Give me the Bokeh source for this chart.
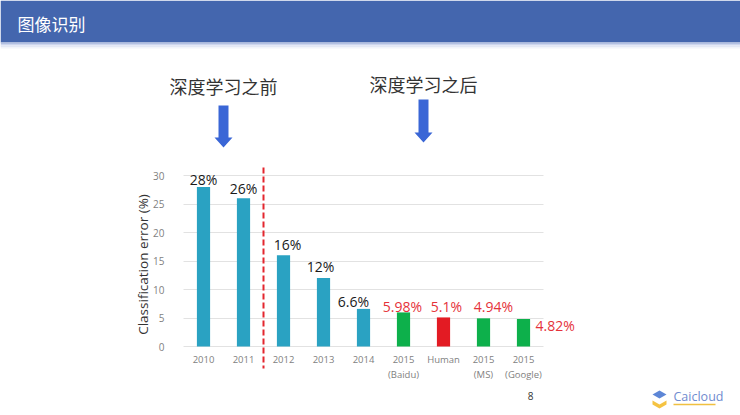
import math
from bokeh.plotting import figure
from bokeh.models import (ColumnDataSource, Range1d, FixedTicker, LinearAxis, Grid,
                          Label, LabelSet)
from bokeh.embed import file_html
from bokeh.resources import INLINE
from bokeh.core.properties import value

# ---------------- data ----------------
categories = ["2010", "2011", "2012", "2013", "2014",
              "2015\n(Baidu)", "Human", "2015\n(MS)", "2015\n(Google)"]
errors = [28, 26, 16, 12, 6.6, 5.98, 5.1, 4.94, 4.82]
value_labels = ["28%", "26%", "16%", "12%", "6.6%", "5.98%", "5.1%", "4.94%", "4.82%"]
bar_kind = ["cnn", "cnn", "cnn", "cnn", "cnn", "model", "human", "model", "model"]
y_ticks = [0, 5, 10, 15, 20, 25, 30]
title_text = "图像识别"
before_text = "深度学习之前"
after_text = "深度学习之后"
y_title = "Classification error (%)"
page_number = "8"
logo_text = "Caicloud"

# ---------------- styles / layout ----------------
KIND_COLOR = {"cnn": "#2aa2c2", "model": "#0db04b", "human": "#e31b23"}
LABEL_RED = "#e5323a"
label_dx = [0, 0, 4, -3, -10, -1, 3, 10, 12]
label_dy = [7, 10, 11, 12, 7, 6, 11, 12, -6]
label_align = ["center"] * 8 + ["left"]
label_color = ["#1a1a1a"] * 5 + [LABEL_RED] * 4

W, H = 740, 415
PAGE_MARGIN = 0
CAT_PX = 40          # pixels per category
UNIT_PX = 5.7        # pixels per error unit
X0_PAGE = 183        # page x of the first category's left edge
Y0_PAGE = 346        # page y of the zero line


def ux(page_x):      # page pixel -> data x
    return (page_x - X0_PAGE) / CAT_PX


def uy(page_y):      # page pixel -> data y
    return (Y0_PAGE - page_y) / UNIT_PX


p = figure(width=W, height=H,
           x_range=Range1d(ux(PAGE_MARGIN), ux(PAGE_MARGIN + W)),
           y_range=Range1d(uy(PAGE_MARGIN + H), uy(PAGE_MARGIN)),
           toolbar_location=None, output_backend="svg", min_border=0,
           x_axis_location=None, y_axis_location=None)
p.outline_line_color = None
p.background_fill_color = "white"
p.border_fill_color = "white"
for g in p.grid:
    g.visible = False

# ---------------- header ----------------
xl, xr = ux(PAGE_MARGIN), ux(PAGE_MARGIN + W)
p.quad(left=xl, right=xr, top=uy(PAGE_MARGIN), bottom=uy(42), color="#4466ae", line_color=None)
shadow = ["#b3c0e2", "#cdd6ee", "#e3e8f5", "#f2f4fa"]
for i, c in enumerate(shadow):
    p.quad(left=xl, right=xr, top=uy(42 + i * 1.5), bottom=uy(42 + (i + 1) * 1.5),
           color=c, line_color=None)
p.add_layout(Label(x=ux(17), y=uy(23), text=title_text, text_baseline="middle",
                   text_font="Noto Sans CJK SC", text_font_size="17px", text_color="white"))

# ---------------- chart ----------------
xs = [i + 0.5 for i in range(len(categories))]
src = ColumnDataSource(dict(
    x=xs, err=errors, lbl=value_labels,
    color=[KIND_COLOR[k] for k in bar_kind],
    dx=label_dx, dy=label_dy, align=label_align, lcolor=label_color))

yaxis = LinearAxis(ticker=FixedTicker(ticks=y_ticks), fixed_location=0, bounds=(0, 30))
yaxis.axis_line_color = None
yaxis.major_tick_line_color = None
yaxis.minor_tick_line_color = None
yaxis.major_label_standoff = 13
yaxis.major_label_text_font = "Open Sans"
yaxis.major_label_text_font_size = "10px"
yaxis.major_label_text_color = "#7f7f7f"
p.add_layout(yaxis, "left")

xaxis = LinearAxis(ticker=FixedTicker(ticks=xs), fixed_location=0,
                   major_label_overrides={x: c for x, c in zip(xs, categories)})
xaxis.axis_line_color = None
xaxis.major_tick_line_color = None
xaxis.minor_tick_line_color = None
xaxis.major_tick_out = 0
xaxis.major_label_standoff = 6
xaxis.major_label_text_font = "Open Sans"
xaxis.major_label_text_font_size = "9.5px"
xaxis.major_label_text_color = "#7f7f7f"
xaxis.major_label_text_line_height = 1.2
p.add_layout(xaxis, "below")

grid = Grid(dimension=1, ticker=yaxis.ticker, grid_line_color="#e2e2e2", grid_line_width=1,
            cross_bounds=(0, len(categories)))
p.add_layout(grid)

p.vbar(x="x", top="err", width=0.33, color="color", line_color=None, source=src)

labels = LabelSet(x="x", y="err", text="lbl", x_offset="dx", y_offset="dy",
                  text_align="align", text_color="lcolor", text_baseline="middle",
                  text_font=value("Open Sans"), text_font_size="14px", source=src)
p.add_layout(labels)

# divider between before / after deep learning
split = categories.index("2012")
p.segment(x0=[split], x1=[split], y0=[y_ticks[-1] + 1.4], y1=[uy(368)],
          line_color="#e3262e", line_width=2, line_dash="6 3")


# block arrows at category boundaries
def arrow(xc, top, base, tip):
    sw, hw = 5 / CAT_PX, 9 / CAT_PX
    return ([xc - sw, xc + sw, xc + sw, xc + hw, xc, xc - hw, xc - sw],
            [top, top, base, base, tip, base, base])


a1 = arrow(1.0, uy(105), uy(137), uy(147))
a2 = arrow(6.0, uy(99), uy(132), uy(142))
p.patches(xs=[a1[0], a2[0]], ys=[a1[1], a2[1]], color="#3a66d6", line_color=None)

p.add_layout(Label(x=1.0, y=uy(85), text=before_text, text_align="center",
                   text_baseline="middle", text_font="Noto Sans CJK SC",
                   text_font_size="18px", text_color="#333333"))
p.add_layout(Label(x=6.0, y=uy(83), text=after_text, text_align="center",
                   text_baseline="middle", text_font="Noto Sans CJK SC",
                   text_font_size="18px", text_color="#333333"))

# y-axis title
p.add_layout(Label(x=ux(142), y=uy(264), text=y_title, angle=math.pi / 2,
                   text_align="center", text_baseline="middle", text_font="Open Sans",
                   text_font_size="13.5px", text_color="#333333"))

# page number
p.add_layout(Label(x=ux(530), y=uy(395), text=page_number, text_align="center",
                   text_baseline="middle", text_font="Open Sans", text_font_size="10px",
                   text_color="#333333"))

# logo
p.patches(xs=[[ux(652), ux(659), ux(666), ux(659)],
              [ux(652), ux(659), ux(666), ux(666), ux(659), ux(652)]],
          ys=[[uy(394), uy(390), uy(394), uy(398)],
              [uy(400), uy(404), uy(400), uy(404), uy(408), uy(404)]],
          color=["#5d86d6", "#f5c342"], line_color=None)
p.add_layout(Label(x=ux(673), y=uy(396), text=logo_text, text_align="left",
                   text_baseline="middle", text_font="Open Sans", text_font_size="12.5px",
                   text_color="#6f8bcf"))
p.segment(x0=[ux(673)], x1=[ux(715)], y0=[uy(404)], y1=[uy(404)], line_color="#f0c040",
          line_width=1.5)

open("out.html", "w").write(file_html(p, INLINE))
